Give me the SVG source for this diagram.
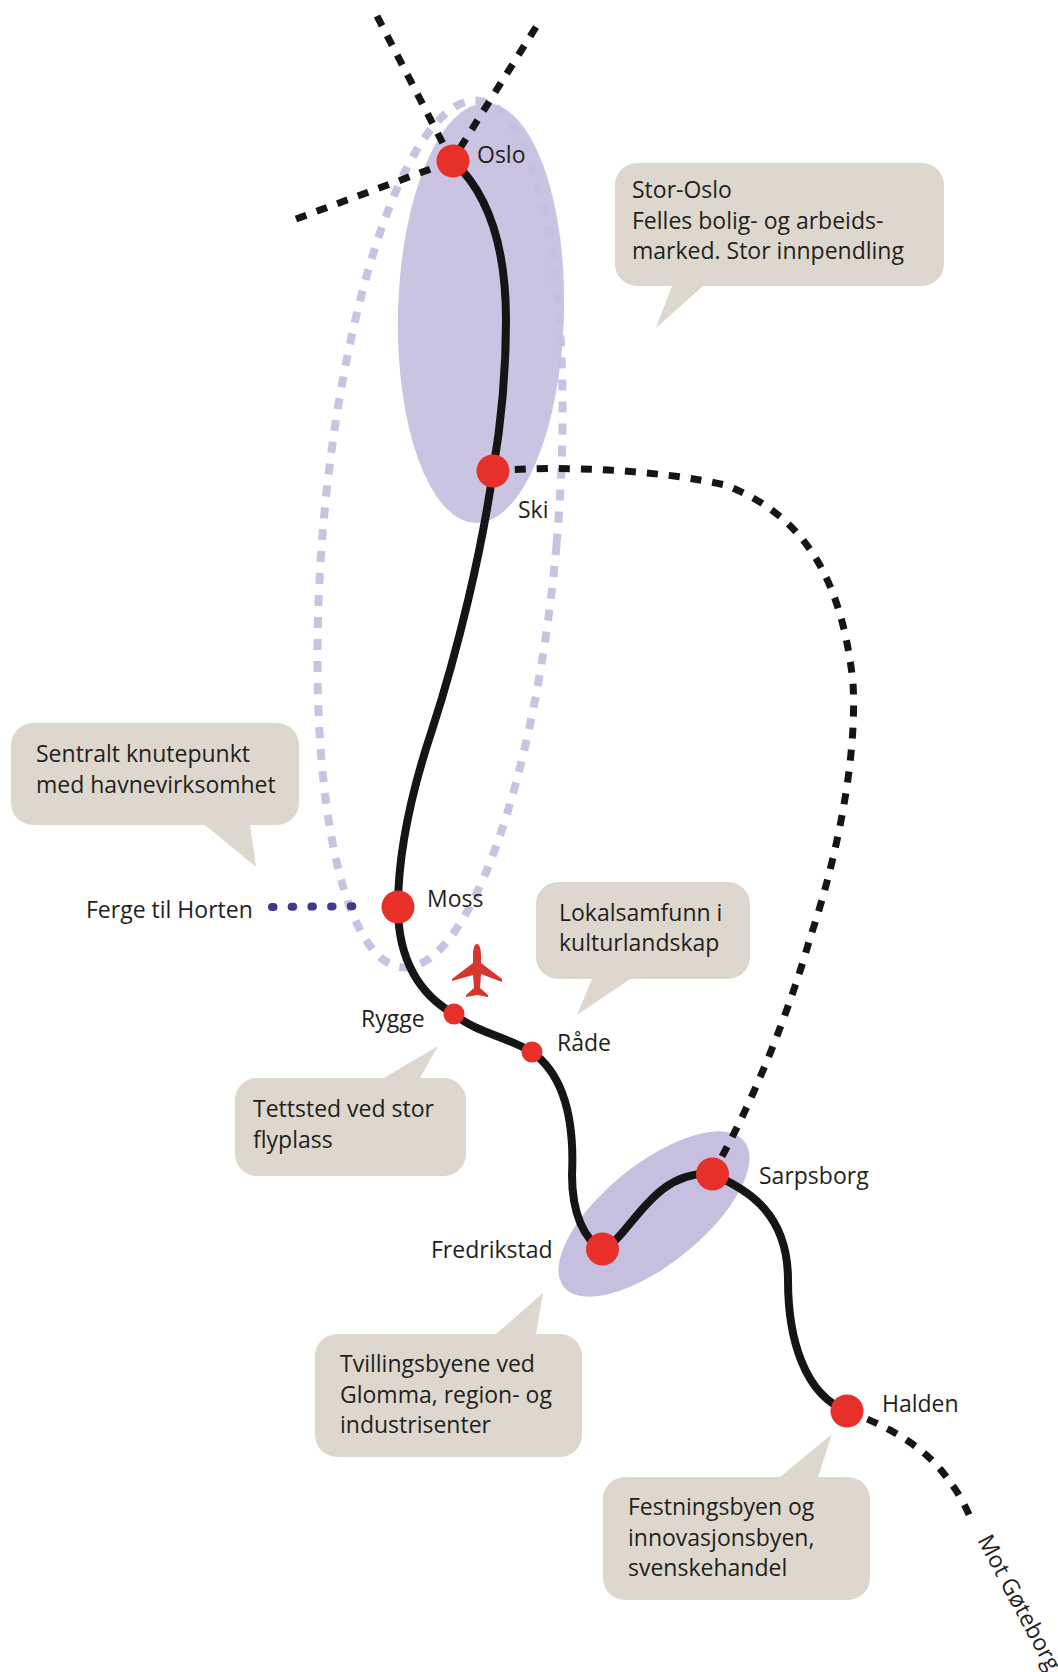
<svg xmlns="http://www.w3.org/2000/svg" width="1058" height="1672" viewBox="0 0 1058 1672">
<style>
text{font-family:"Open Sans","Noto Sans","Liberation Sans",sans-serif;font-size:23px;fill:#231f20}
.callout{fill:#ddd7ce}
.region{fill:#c6bfdf}
.big{fill:#e8302a}
.rail{fill:none;stroke:#151515;stroke-width:8;stroke-linecap:butt}
.dash{fill:none;stroke:#151515;stroke-width:7;stroke-dasharray:11 11}
</style>
<rect width="1058" height="1672" fill="#fff"/>
<g id="regions">
<ellipse id="stor-oslo-outer" cx="440" cy="534" rx="117" ry="435" transform="rotate(5 440 534)" fill="none" stroke="#c9c3e2" stroke-width="8" stroke-dasharray="11 11"/>
<ellipse id="stor-oslo" class="region" cx="481" cy="313" rx="83" ry="210" transform="rotate(1.5 481 313)" opacity=".92"/>
<ellipse id="twin-cities" class="region" cx="654" cy="1214" rx="116" ry="50" transform="rotate(-39 654 1214)"/>
</g>
<g id="connectors">
<path class="rail" d="M453 161C490 195 506 250 506 320C506 380 500 430 493 471C482 550 458 650 432 730C412 790 398 850 398 907C398 960 420 995 454 1014C475 1032 505 1036 532 1052C560 1072 575 1110 572 1175C572 1215 585 1240 602 1249C630 1240 650 1170 712 1174C750 1190 788 1215 788 1280C788 1340 805 1395 847 1411"/>
<path class="dash" d="M377 16L452 161"/>
<path class="dash" d="M536 27L452 161"/>
<path class="dash" d="M296 219L452 161"/>
<path class="dash" d="M493 471C560 465 660 470 725 485C790 510 840 560 853 683C858 770 830 880 810 938C790 1010 750 1110 712 1174"/>
<path class="dash" d="M847 1411C885 1425 925 1445 950 1482C958 1492 965 1505 970 1517"/>
<path d="M272 907L370 906" fill="none" stroke="#3f3b8c" stroke-width="8" stroke-linecap="round" stroke-dasharray="1.5 18.2"/>
</g>
<g id="plane"><path d="M477 944C480 944 481 950 481 956L481 963L502 979L502 982L481 974L480 988L488 995L488 997L477 995L466 997L466 995L474 988L473 975L452 981L452 979L473 963L473 956C473 950 474 944 477 944Z" fill="#d8352c"/></g>
<g id="oslo"><circle class="big" cx="453" cy="161" r="16.5"/><text x="477" y="163">Oslo</text></g>
<g id="ski"><circle class="big" cx="493" cy="471" r="16.5"/><text x="518" y="518">Ski</text></g>
<g id="moss"><circle class="big" cx="398" cy="907" r="16.5"/><text x="427" y="907">Moss</text></g>
<g id="ferge"><text x="86" y="918">Ferge til Horten</text></g>
<g id="rygge"><circle class="big" cx="454" cy="1014" r="10.5"/><text x="361" y="1027">Rygge</text></g>
<g id="rade"><circle class="big" cx="532" cy="1052" r="10.5"/><text x="557" y="1051">Råde</text></g>
<g id="fredrikstad"><circle class="big" cx="602.500" cy="1249" r="16.5"/><text x="431" y="1258">Fredrikstad</text></g>
<g id="sarpsborg"><circle class="big" cx="712.500" cy="1174" r="16.5"/><text x="759" y="1184">Sarpsborg</text></g>
<g id="halden"><circle class="big" cx="847" cy="1411" r="16.5"/><text x="882" y="1412">Halden</text></g>
<g id="goteborg"><text transform="translate(977 1540) rotate(62)">Mot Gøteborg</text></g>
<g id="callout-stor-oslo"><path class="callout" d="M637 163H922a22 22 0 0 1 22 22V264a22 22 0 0 1-22 22H703L656 328L672 286H637a22 22 0 0 1-22-22V185a22 22 0 0 1 22-22Z"/><text x="632" y="198">Stor-Oslo</text><text x="632" y="229">Felles bolig- og arbeids-</text><text x="632" y="259">marked. Stor innpendling</text></g>
<g id="callout-havn"><path class="callout" d="M33 723H277a22 22 0 0 1 22 22V803a22 22 0 0 1-22 22H250L256 867L205 825H33a22 22 0 0 1-22-22V745a22 22 0 0 1 22-22Z"/><text x="36" y="762">Sentralt knutepunkt</text><text x="36" y="793">med havnevirksomhet</text></g>
<g id="callout-lokal"><path class="callout" d="M558 882H728a22 22 0 0 1 22 22V957a22 22 0 0 1-22 22H630L577 1015L592 979H558a22 22 0 0 1-22-22V904a22 22 0 0 1 22-22Z"/><text x="559" y="921">Lokalsamfunn i</text><text x="559" y="951">kulturlandskap</text></g>
<g id="callout-tettsted"><path class="callout" d="M257 1078H384L438 1046L420 1078H444a22 22 0 0 1 22 22V1154a22 22 0 0 1-22 22H257a22 22 0 0 1-22-22V1100a22 22 0 0 1 22-22Z"/><text x="253" y="1117">Tettsted ved stor</text><text x="253" y="1148">flyplass</text></g>
<g id="callout-tvilling"><path class="callout" d="M337 1334H496L543 1293L536 1334H560a22 22 0 0 1 22 22V1435a22 22 0 0 1-22 22H337a22 22 0 0 1-22-22V1356a22 22 0 0 1 22-22Z"/><text x="340" y="1372">Tvillingsbyene ved</text><text x="340" y="1403">Glomma, region- og</text><text x="340" y="1433">industrisenter</text></g>
<g id="callout-festning"><path class="callout" d="M625 1477H780L832 1434L818 1477H848a22 22 0 0 1 22 22V1578a22 22 0 0 1-22 22H625a22 22 0 0 1-22-22V1499a22 22 0 0 1 22-22Z"/><text x="628" y="1515">Festningsbyen og</text><text x="628" y="1546">innovasjonsbyen,</text><text x="628" y="1576">svenskehandel</text></g>
</svg>
